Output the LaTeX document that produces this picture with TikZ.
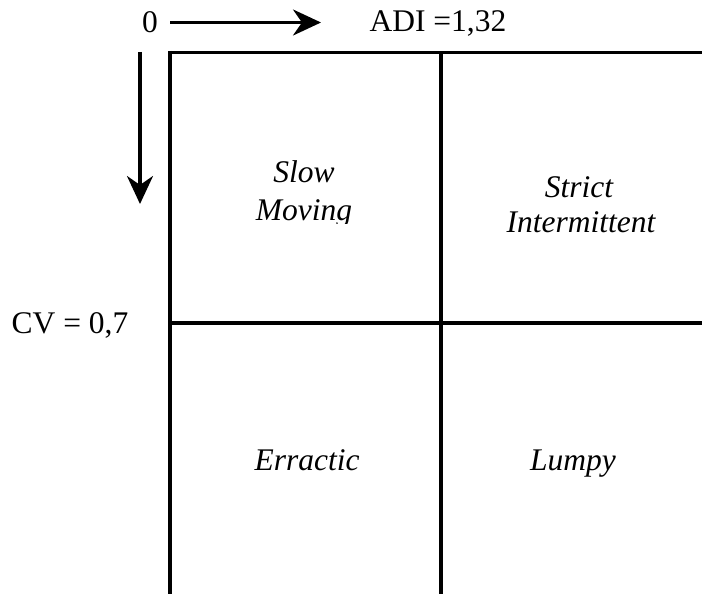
\documentclass[tikz,border=0pt]{standalone}
\usepackage{fontspec}
\setmainfont{Liberation Serif}
\usetikzlibrary{arrows.meta}
\begin{document}
\begin{tikzpicture}[x=1pt,y=-1pt,
  gridline/.style={line width=3.4pt},
  axisarrow/.style={line width=3.2pt,-{Stealth[length=28pt,width=26pt,inset=9pt]}},
  lbl/.style={inner sep=0pt,anchor=base,font=\fontsize{31.5}{36}\selectfont},
  cell/.style={lbl,font=\fontsize{31.5}{36}\selectfont\itshape}]
\useasboundingbox (0,0) rectangle (702,594);

% quadrant grid (runs off the right and bottom edges)
\coordinate (tl) at (170,52.5);
\coordinate (tr) at (712,52.5);
\coordinate (ml) at (170,323);
\coordinate (mr) at (712,323);
\coordinate (bl) at (170,595.5);
\coordinate (br) at (712,595.5);
\coordinate (mt) at (441,52.5);
\coordinate (mb) at (441,600);
\draw[gridline] (tl) -- (tr);
\draw[gridline] (ml) -- (mr);
\draw[gridline] (bl) -- (br);
\draw[gridline] (170,50.8) -- (170,600);
\draw[gridline] (mt) -- (mb);

% axes
\node[lbl] (zero) at (150,33) {0};
\node[lbl] (adi) at (438,32) {ADI =1,32};
\node[lbl] (cv) at (70,333) {CV = 0,7};
\coordinate (hs) at (170,22.5);
\coordinate (he) at (321,22.5);
\coordinate (vs) at (140,52);
\coordinate (ve) at (140,204);
\draw[axisarrow] (hs) -- (he);
\draw[axisarrow] (vs) -- (ve);

% quadrant labels
\begin{scope}
  \clip (200,140) rectangle (420,223);
  \node[cell] (slow) at (304,182) {Slow};
  \node[cell] (moving) at (304,220) {Moving};
\end{scope}
\node[cell] (strict) at (579,197) {Strict};
\node[cell] (interm) at (581,232) {Intermittent};
\node[cell] (erractic) at (307,470) {Erractic};
\node[cell] (lumpy) at (573,470) {Lumpy};
\end{tikzpicture}
\end{document}
